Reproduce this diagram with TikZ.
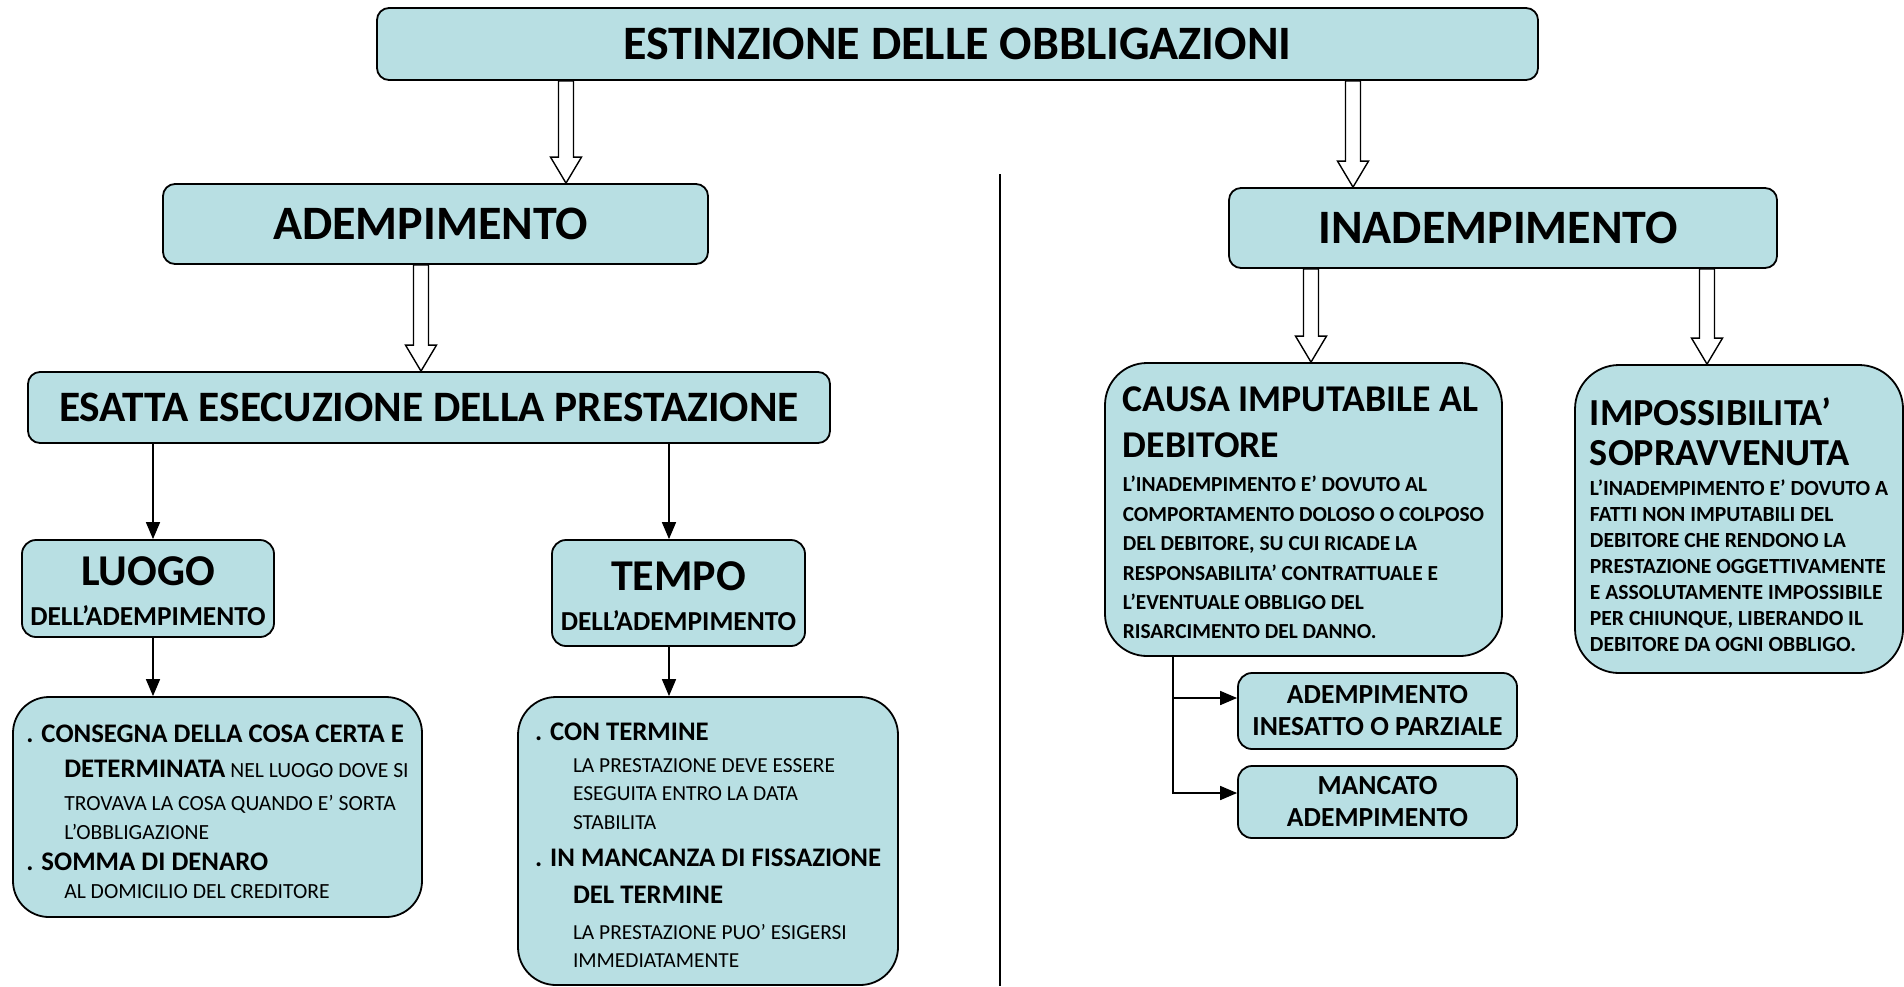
\documentclass[tikz,border=0pt]{standalone}
\usepackage{fontspec}
\setmainfont{Carlito}
\usetikzlibrary{arrows.meta,calc}
\definecolor{acqua}{RGB}{184,223,227}
\newcommand{\voce}[1]{{\fontsize{13.4}{14}\selectfont\bfseries #1}}
\newcommand{\rientro}{\hspace*{19pt}}
\newcommand{\spinta}[1]{\rule{0pt}{#1}}

\begin{document}
\begin{tikzpicture}[x=0.5pt,y=-0.5pt,
      box/.style={draw,fill=acqua,rounded corners=6pt,line width=0.9pt,
                  align=center,inner sep=0pt},
      detbox/.style={box,rounded corners=19pt,align=left},
      arr/.style={-{Triangle[length=8.5pt,width=7pt]},line width=0.8pt},
      hollow/.style={draw,fill=white,line width=0.7pt,
        to path={let \p1=(\tikztostart),\p2=(\tikztotarget) in
          (\x1-3.75pt,\y1) -- (\x1-3.75pt,\y2+13pt) -- (\x1-7.75pt,\y2+13pt)
          -- (\x1,\y2) -- (\x1+7.75pt,\y2+13pt) -- (\x1+3.75pt,\y2+13pt)
          -- (\x1+3.75pt,\y1) -- cycle}}]
  \useasboundingbox (0,0) rectangle (1904,986);

  % header boxes
  \node[box,minimum width=580.5pt,minimum height=36pt,
        font=\fontsize{24}{28}\selectfont\bfseries] (titolo) at (957.5,44)
    {ESTINZIONE DELLE OBBLIGAZIONI};
  \node[box,minimum width=272.5pt,minimum height=40pt,
        font=\fontsize{24}{28}\selectfont\bfseries] (adem) at (435.5,224)
    {ADEMPIMENTO\hspace*{5pt}};
  \node[box,minimum width=274pt,minimum height=40pt,
        font=\fontsize{24}{28}\selectfont\bfseries] (inadem) at (1503,228)
    {INADEMPIMENTO\hspace*{5pt}};
  \node[box,minimum width=401pt,minimum height=35.5pt,
        font=\fontsize{21.7}{26}\selectfont\bfseries] (esatta) at (429,407.5)
    {ESATTA ESECUZIONE DELLA PRESTAZIONE};

  % left side
  \node[box,minimum width=126pt,minimum height=48.5pt,rounded corners=7pt,
        font=\fontsize{13.7}{20}\selectfont\bfseries] (luogo) at (148,588.5)
    {\spinta{17.5pt}{\fontsize{22}{20}\selectfont LUOGO}\\DELL’ADEMPIMENTO};
  \node[box,minimum width=126.5pt,minimum height=53pt,rounded corners=7pt,
        font=\fontsize{13.7}{20}\selectfont\bfseries] (tempo) at (678.5,593)
    {\spinta{17.5pt}{\fontsize{22}{20}\selectfont TEMPO}\\DELL’ADEMPIMENTO};
  \node[detbox,minimum width=204.5pt,minimum height=110pt,rounded corners=18pt,
        font=\fontsize{10.8}{14}\selectfont] (luogodet) at (217.5,807)
    {\spinta{13.3pt}\voce{. CONSEGNA DELLA COSA CERTA E}\\[3.5pt]
     \rientro\voce{DETERMINATA} NEL LUOGO DOVE SI\\[2.5pt]
     \rientro TROVAVA LA COSA QUANDO E’ SORTA\\[0.5pt]
     \rientro L’OBBLIGAZIONE\\[1.5pt]
     \voce{. SOMMA DI DENARO}\\
     \rientro AL DOMICILIO DEL CREDITORE};
  \node[detbox,minimum width=190pt,minimum height=144pt,
        font=\fontsize{10.7}{14}\selectfont] (tempodet) at (708,841)
    {\spinta{12.6pt}\voce{. CON TERMINE}\\[2pt]
     \rientro LA PRESTAZIONE DEVE ESSERE\\
     \rientro ESEGUITA ENTRO LA DATA\\[0.5pt]
     \rientro STABILITA\\[4.5pt]
     \voce{. IN MANCANZA DI FISSAZIONE}\\[4.5pt]
     \rientro\voce{DEL TERMINE}\\[4pt]
     \rientro LA PRESTAZIONE PUO’ ESIGERSI\\
     \rientro IMMEDIATAMENTE};

  % right side
  \node[detbox,minimum width=198.5pt,minimum height=146.5pt,rounded corners=21pt,
        font=\fontsize{10.7}{14.7}\selectfont\bfseries] (causa) at (1303.5,509.5)
    {\spinta{15.5pt}{\fontsize{18.9}{20}\selectfont CAUSA IMPUTABILE AL}\\[8.6pt]
     {\fontsize{18.9}{20}\selectfont DEBITORE}\\[2.4pt]
     L’INADEMPIMENTO E’ DOVUTO AL\\
     COMPORTAMENTO DOLOSO O COLPOSO\\
     DEL DEBITORE, SU CUI RICADE LA\\
     RESPONSABILITA’ CONTRATTUALE E\\
     L’EVENTUALE OBBLIGO DEL\\
     RISARCIMENTO DEL DANNO.};
  \node[detbox,minimum width=164pt,minimum height=154pt,rounded corners=22pt,
        font=\fontsize{10.8}{13}\selectfont\bfseries] (imposs) at (1739,519)
    {\spinta{19.6pt}{\fontsize{19.1}{20}\selectfont IMPOSSIBILITA’}\\[7pt]
     {\fontsize{19.1}{20}\selectfont SOPRAVVENUTA}\\[2.4pt]
     L’INADEMPIMENTO E’ DOVUTO A\\
     FATTI NON IMPUTABILI DEL\\
     DEBITORE CHE RENDONO LA\\
     PRESTAZIONE OGGETTIVAMENTE\\
     E ASSOLUTAMENTE IMPOSSIBILE\\
     PER CHIUNQUE, LIBERANDO IL\\
     DEBITORE DA OGNI OBBLIGO.};
  \node[box,minimum width=139.5pt,minimum height=38pt,rounded corners=7pt,
        font=\fontsize{13.8}{16}\selectfont\bfseries] (inesatto) at (1377.5,711)
    {ADEMPIMENTO\\INESATTO O PARZIALE};
  \node[box,minimum width=139.5pt,minimum height=36pt,rounded corners=7pt,
        font=\fontsize{13.8}{16}\selectfont\bfseries] (mancato) at (1377.5,802)
    {MANCATO\\ADEMPIMENTO};

  % connectors
  \coordinate (h1) at (566,0);  \coordinate (h2) at (1353,0);
  \coordinate (h3) at (421,0);  \coordinate (h4) at (1311,0);
  \coordinate (h5) at (1707,0);
  \coordinate (xl) at (153,0);  \coordinate (xt) at (669,0);
  \coordinate (xc) at (1173,0);
  \draw[hollow] (titolo.south -| h1) to (adem.north -| h1);
  \draw[hollow] (titolo.south -| h2) to (inadem.north -| h2);
  \draw[hollow] (adem.south -| h3) to (esatta.north -| h3);
  \draw[hollow] (inadem.south -| h4) to (causa.north -| h4);
  \draw[hollow] (inadem.south -| h5) to (imposs.north -| h5);

  \draw[arr] (esatta.south -| xl) -- (luogo.north -| xl);
  \draw[arr] (esatta.south -| xt) -- (tempo.north -| xt);
  \draw[arr] (luogo.south -| xl) -- (luogodet.north -| xl);
  \draw[arr] (tempo.south -| xt) -- (tempodet.north -| xt);
  \draw[arr] (causa.south -| xc) |- ([yshift=6.5pt]inesatto.west);
  \draw[arr] (causa.south -| xc) |- ([yshift=4.5pt]mancato.west);

  % divider
  \coordinate (sepA) at (1000,174);
  \coordinate (sepB) at (1000,986);
  \draw[line width=0.7pt] (sepA) -- (sepB);
\end{tikzpicture}
\end{document}
